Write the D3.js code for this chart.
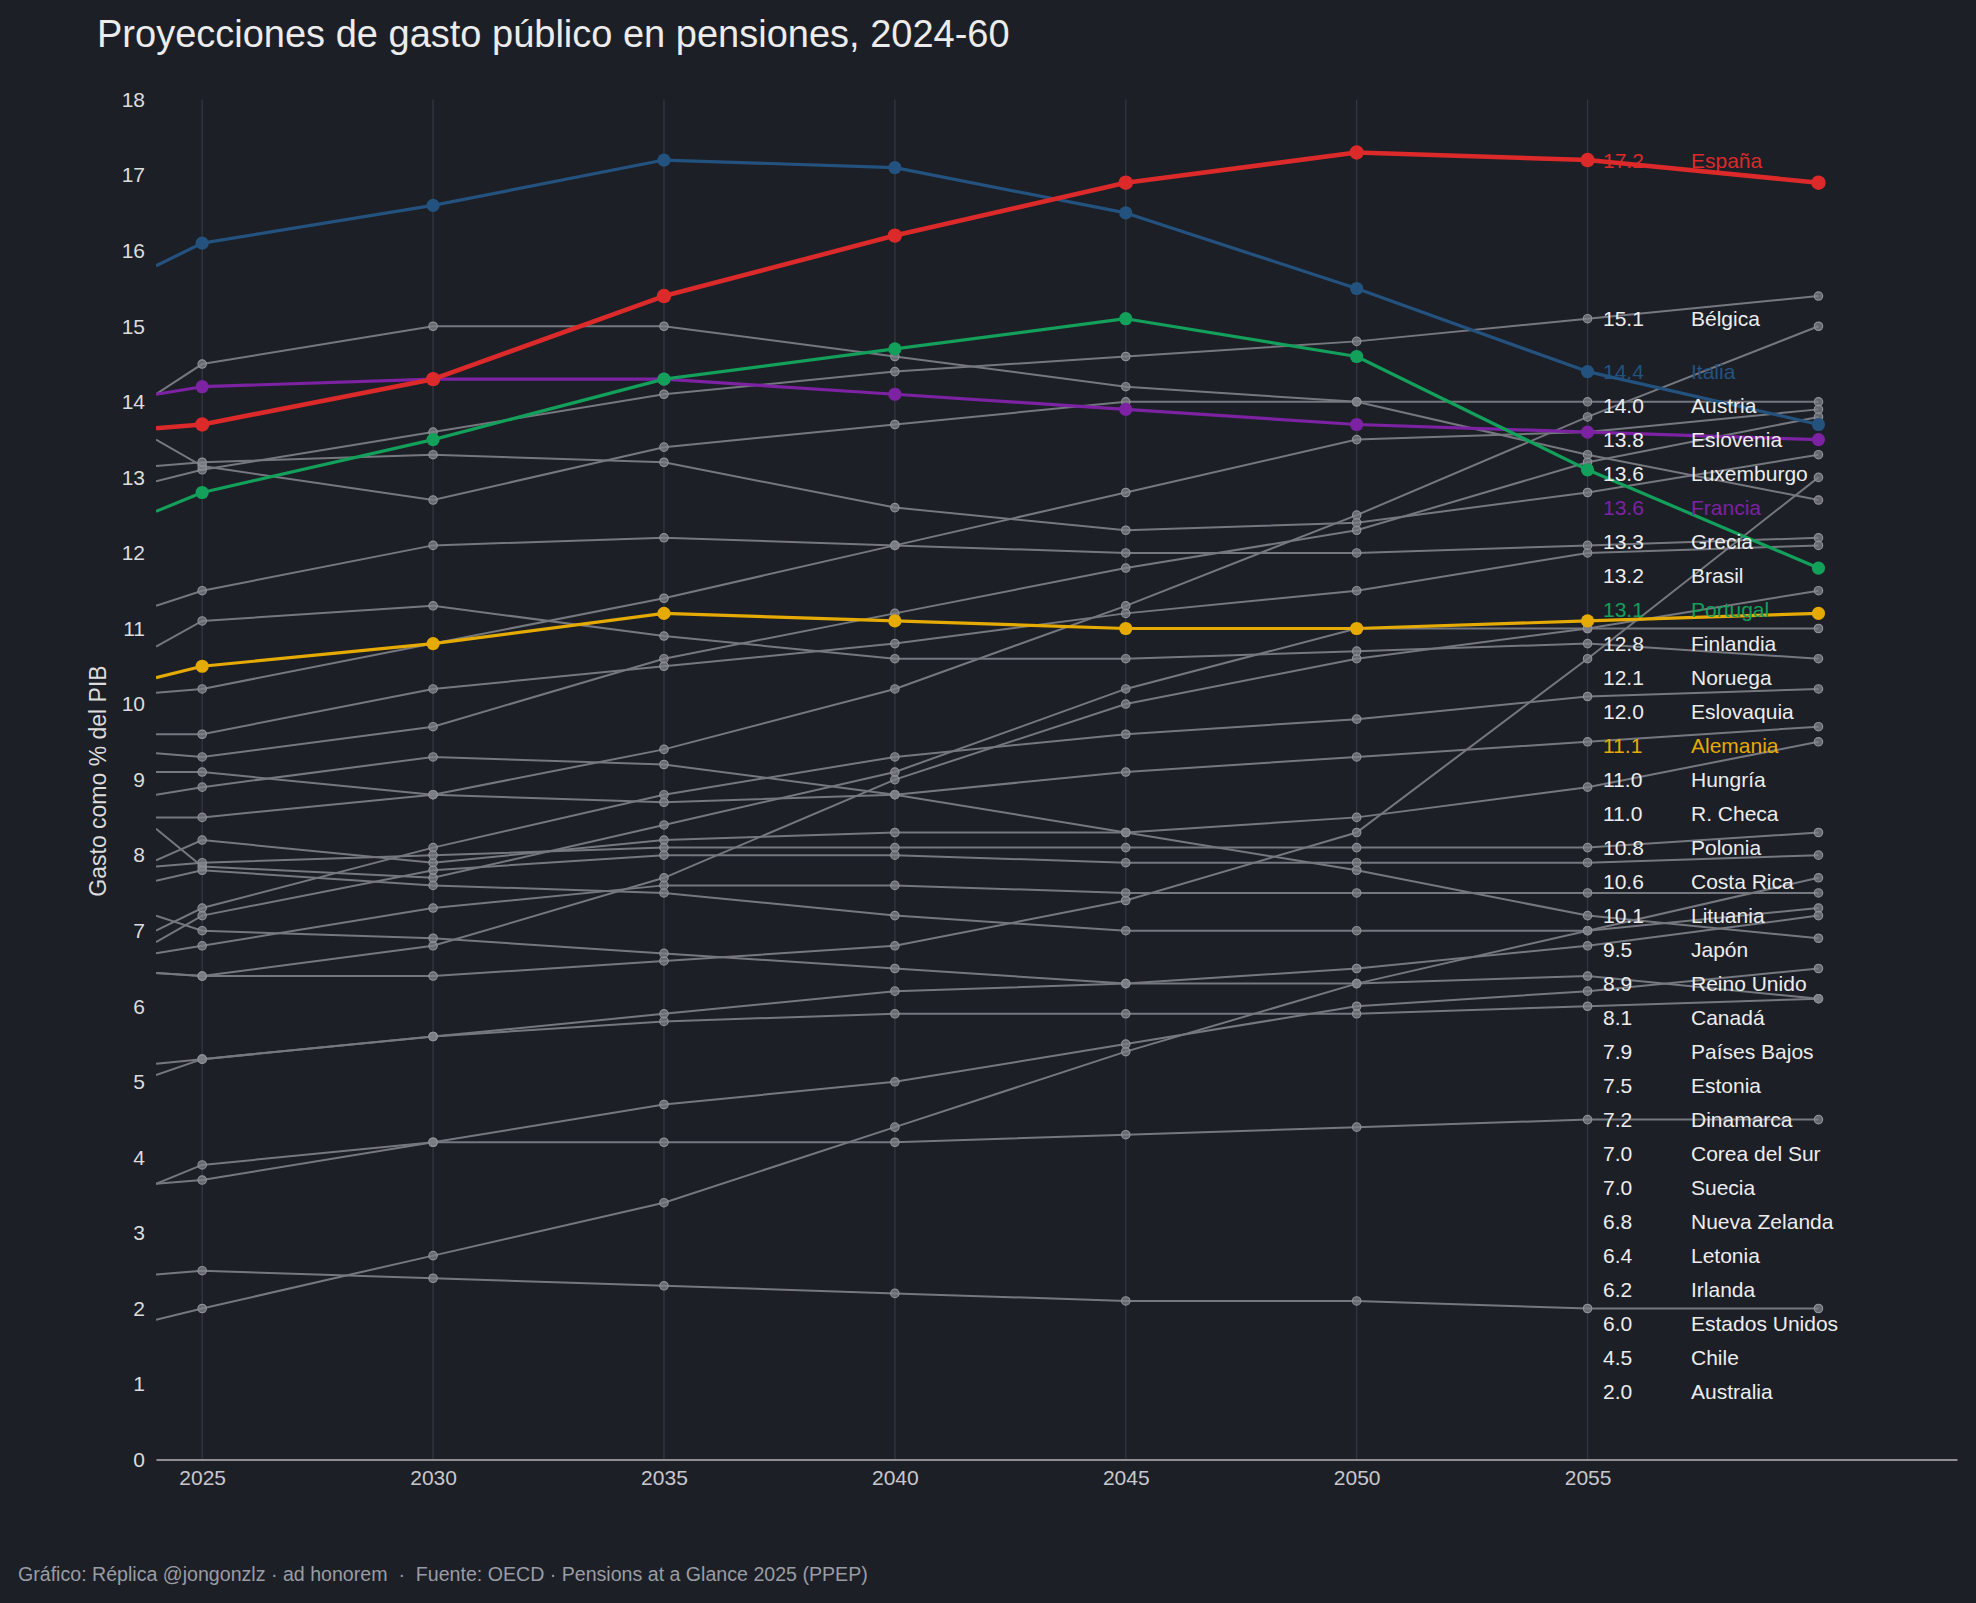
<!DOCTYPE html>
<html>
<head>
<meta charset="utf-8">
<script src="https://cdn.jsdelivr.net/npm/d3@7"></script>
<style>
  html, body { margin: 0; padding: 0; background: #1d1f27; }
  svg { display: block; font-family: "Liberation Sans", Arial, Helvetica, sans-serif; }
</style>
</head>
<body>
<svg width="1976" height="1603"></svg>
<script>
(function (d3) {
  'use strict';

  // años de la serie (2024 solo sirve de arranque de la línea, sin marcador)
  const years = [2024, 2025, 2030, 2035, 2040, 2045, 2050, 2055, 2060];
  const tickYears = [2025, 2030, 2035, 2040, 2045, 2050, 2055];
  const yTicks = d3.range(0, 19);

  const countries = [
    'España', 'Bélgica', 'Italia', 'Austria', 'Eslovenia', 'Luxemburgo', 'Francia',
    'Grecia', 'Brasil', 'Portugal', 'Finlandia', 'Noruega', 'Eslovaquia', 'Alemania',
    'Hungría', 'R. Checa', 'Polonia', 'Costa Rica', 'Lituania', 'Japón', 'Reino Unido',
    'Canadá', 'Países Bajos', 'Estonia', 'Dinamarca', 'Corea del Sur', 'Suecia',
    'Nueva Zelanda', 'Letonia', 'Irlanda', 'Estados Unidos', 'Chile', 'Australia'
  ];

  // gasto en % del PIB, un array por país, en el orden de `years`
  const spending = [
    [13.65, 13.7, 14.3, 15.4, 16.2, 16.9, 17.3, 17.2, 16.9],   // España
    [12.95, 13.1, 13.6, 14.1, 14.4, 14.6, 14.8, 15.1, 15.4],   // Bélgica
    [15.8, 16.1, 16.6, 17.2, 17.1, 16.5, 15.5, 14.4, 13.7],    // Italia
    [13.5, 13.15, 12.7, 13.4, 13.7, 14.0, 14.0, 14.0, 14.0],   // Austria
    [9.1, 9.1, 8.8, 9.4, 10.2, 11.3, 12.5, 13.8, 15.0],        // Eslovenia
    [10.15, 10.2, 10.8, 11.4, 12.1, 12.8, 13.5, 13.6, 13.9],   // Luxemburgo
    [14.1, 14.2, 14.3, 14.3, 14.1, 13.9, 13.7, 13.6, 13.5],    // Francia
    [14.1, 14.5, 15.0, 15.0, 14.6, 14.2, 14.0, 13.3, 12.7],    // Grecia
    [9.35, 9.3, 9.7, 10.6, 11.2, 11.8, 12.3, 13.2, 13.8],      // Brasil
    [12.55, 12.8, 13.5, 14.3, 14.7, 15.1, 14.6, 13.1, 11.8],   // Portugal
    [13.15, 13.2, 13.3, 13.2, 12.6, 12.3, 12.4, 12.8, 13.3],   // Finlandia
    [11.3, 11.5, 12.1, 12.2, 12.1, 12.0, 12.0, 12.1, 12.2],    // Noruega
    [9.6, 9.6, 10.2, 10.5, 10.8, 11.2, 11.5, 12.0, 12.1],      // Eslovaquia
    [10.35, 10.5, 10.8, 11.2, 11.1, 11.0, 11.0, 11.1, 11.2],   // Alemania
    [6.44, 6.4, 6.8, 7.7, 9.0, 10.0, 10.6, 11.0, 11.5],        // Hungría
    [8.35, 7.85, 7.7, 8.4, 9.1, 10.2, 11.0, 11.0, 11.0],       // R. Checa
    [10.76, 11.1, 11.3, 10.9, 10.6, 10.6, 10.7, 10.8, 10.6],   // Polonia
    [6.44, 6.4, 6.4, 6.6, 6.8, 7.4, 8.3, 10.6, 13.0],          // Costa Rica
    [7.0, 7.3, 8.1, 8.8, 9.3, 9.6, 9.8, 10.1, 10.2],           // Lituania
    [8.5, 8.5, 8.8, 8.7, 8.8, 9.1, 9.3, 9.5, 9.7],             // Japón
    [7.93, 8.2, 7.9, 8.2, 8.3, 8.3, 8.5, 8.9, 9.5],            // Reino Unido
    [7.85, 7.9, 8.0, 8.1, 8.1, 8.1, 8.1, 8.1, 8.3],            // Canadá
    [6.85, 7.2, 7.8, 8.0, 8.0, 7.9, 7.9, 7.9, 8.0],            // Países Bajos
    [6.7, 6.8, 7.3, 7.6, 7.6, 7.5, 7.5, 7.5, 7.5],             // Estonia
    [8.8, 8.9, 9.3, 9.2, 8.8, 8.3, 7.8, 7.2, 6.9],             // Dinamarca
    [1.85, 2.0, 2.7, 3.4, 4.4, 5.4, 6.3, 7.0, 7.7],            // Corea del Sur
    [7.66, 7.8, 7.6, 7.5, 7.2, 7.0, 7.0, 7.0, 7.3],            // Suecia
    [7.2, 7.0, 6.9, 6.7, 6.5, 6.3, 6.5, 6.8, 7.2],             // Nueva Zelanda
    [5.24, 5.3, 5.6, 5.9, 6.2, 6.3, 6.3, 6.4, 6.1],            // Letonia
    [3.65, 3.9, 4.2, 4.7, 5.0, 5.5, 6.0, 6.2, 6.5],            // Irlanda
    [5.09, 5.3, 5.6, 5.8, 5.9, 5.9, 5.9, 6.0, 6.1],            // Estados Unidos
    [3.65, 3.7, 4.2, 4.2, 4.2, 4.3, 4.4, 4.5, 4.5],            // Chile
    [2.45, 2.5, 2.4, 2.3, 2.2, 2.1, 2.1, 2.0, 2.0]             // Australia
  ];

  const highlightNames = ['España', 'Italia', 'Portugal', 'Francia', 'Alemania'];
  const highlightColors = ['#dc2a2a', '#23527f', '#12a05b', '#7c22a3', '#e6ab02'];

  const labelYear = 2055;
  const bg = '#1d1f27';
  const grey = '#76787f';

  const svg = d3.select('svg');
  const width = +svg.attr('width');

  const left = 156, right = 1957, top = 99.6, bottom = 1459.6;

  const xScale = d3.scaleLinear().domain([2024, 2063]).range([left, right]);
  const yScale = d3.scaleLinear().domain([0, 18]).range([bottom, top]);

  const colorOf = name => {
    const i = highlightNames.indexOf(name);
    return i < 0 ? null : highlightColors[i];
  };

  const series = countries.map((name, i) => ({
    name,
    color: colorOf(name),
    points: years.map((yr, j) => ({ year: yr, value: spending[i][j] }))
  }));

  svg.append('rect')
    .attr('width', width)
    .attr('height', +svg.attr('height'))
    .attr('fill', bg);

  // título
  svg.append('text')
    .attr('x', 97)
    .attr('y', 47)
    .attr('fill', '#ececec')
    .attr('font-size', 38)
    .text('Proyecciones de gasto público en pensiones, 2024-60');

  const g = svg.append('g');

  // líneas verticales de rejilla
  g.selectAll('.grid').data(tickYears)
    .enter().append('line')
      .attr('class', 'grid')
      .attr('x1', d => xScale(d))
      .attr('x2', d => xScale(d))
      .attr('y1', top)
      .attr('y2', bottom)
      .attr('stroke', '#34363f')
      .attr('stroke-width', 1.3);

  const yAxis = d3.axisLeft(yScale)
    .tickValues(yTicks)
    .tickSize(0)
    .tickPadding(11);

  const yAxisG = g.append('g')
    .attr('transform', `translate(${left},0)`)
    .call(yAxis);
  yAxisG.select('.domain').remove();
  yAxisG.selectAll('text')
    .attr('fill', '#dcdcdc')
    .attr('font-size', 21)
    .attr('font-family', '"Liberation Sans", Arial, sans-serif');

  const xAxis = d3.axisBottom(xScale)
    .tickValues(tickYears)
    .tickFormat(d3.format('d'))
    .tickSize(0)
    .tickSizeOuter(0)
    .tickPadding(10);

  const xAxisG = g.append('g')
    .attr('transform', `translate(0,${bottom})`)
    .call(xAxis);
  xAxisG.select('.domain')
    .attr('stroke', '#b4b4b8')
    .attr('stroke-width', 1.5);
  xAxisG.selectAll('text')
    .attr('fill', '#c8c8cc')
    .attr('font-size', 21)
    .attr('font-family', '"Liberation Sans", Arial, sans-serif');

  svg.append('text')
    .attr('transform', 'translate(106,781) rotate(-90)')
    .attr('text-anchor', 'middle')
    .attr('fill', '#dcdcdc')
    .attr('font-size', 23)
    .text('Gasto como % del PIB');

  svg.append('clipPath')
    .attr('id', 'plot-clip')
  .append('rect')
    .attr('x', left)
    .attr('y', 0)
    .attr('width', right - left)
    .attr('height', bottom + 10);

  const line = d3.line()
    .x(d => xScale(d.year))
    .y(d => yScale(d.value));

  const plot = g.append('g').attr('clip-path', 'url(#plot-clip)');

  const greys = series.filter(s => !s.color);
  const colored = series.filter(s => s.color)
    .sort((a, b) => (a.name === 'España') - (b.name === 'España'));

  // países en gris
  plot.selectAll('.grey-line').data(greys)
    .enter().append('path')
      .attr('class', 'grey-line')
      .attr('d', d => line(d.points))
      .attr('fill', 'none')
      .attr('stroke', grey)
      .attr('stroke-width', 2);

  greys.forEach(s => {
    plot.selectAll(null).data(s.points.slice(1))
      .enter().append('circle')
        .attr('cx', d => xScale(d.year))
        .attr('cy', d => yScale(d.value))
        .attr('r', 4.2)
        .attr('fill', '#7e8087')
        .attr('fill-opacity', 0.75)
        .attr('stroke', '#8e9097')
        .attr('stroke-width', 1.2);
  });

  // países destacados
  colored.forEach(s => {
    const big = s.name === 'España';
    plot.append('path')
      .attr('d', line(s.points))
      .attr('fill', 'none')
      .attr('stroke', s.color)
      .attr('stroke-width', big ? 4.6 : 3.2)
      .attr('stroke-linejoin', 'round');
    plot.selectAll(null).data(s.points.slice(1))
      .enter().append('circle')
        .attr('cx', d => xScale(d.year))
        .attr('cy', d => yScale(d.value))
        .attr('r', big ? 7.2 : 6.6)
        .attr('fill', s.color);
  });

  // etiquetas a la derecha, valor de 2055, separadas para no pisarse
  const li = years.indexOf(labelYear);
  const labels = series
    .map((s, i) => ({ name: s.name, color: s.color, value: s.points[li].value, order: i }))
    .sort((a, b) => d3.descending(a.value, b.value) || a.order - b.order);

  const gap = 34;
  let prev = -Infinity;
  labels.forEach(d => {
    d.y = Math.max(yScale(d.value), prev + gap);
    prev = d.y;
  });

  const labelG = svg.append('g');
  labelG.selectAll('.lab-value').data(labels)
    .enter().append('text')
      .attr('class', 'lab-value')
      .attr('x', 1603)
      .attr('y', d => d.y)
      .attr('dy', '0.36em')
      .attr('fill', d => d.color || '#ededed')
      .attr('font-size', 21)
      .text(d => d3.format('.1f')(d.value));

  labelG.selectAll('.lab-name').data(labels)
    .enter().append('text')
      .attr('class', 'lab-name')
      .attr('x', 1691)
      .attr('y', d => d.y)
      .attr('dy', '0.36em')
      .attr('fill', d => d.color || '#ededed')
      .attr('font-size', 21)
      .text(d => d.name);

  svg.append('text')
    .attr('x', 18)
    .attr('y', 1581)
    .attr('fill', '#9a9ca3')
    .attr('font-size', 19.6)
    .attr('xml:space', 'preserve')
    .text('Gráfico: Réplica @jongonzlz · ad honorem  ·  Fuente: OECD · Pensions at a Glance 2025 (PPEP)');

}(d3));
</script>
</body>
</html>
